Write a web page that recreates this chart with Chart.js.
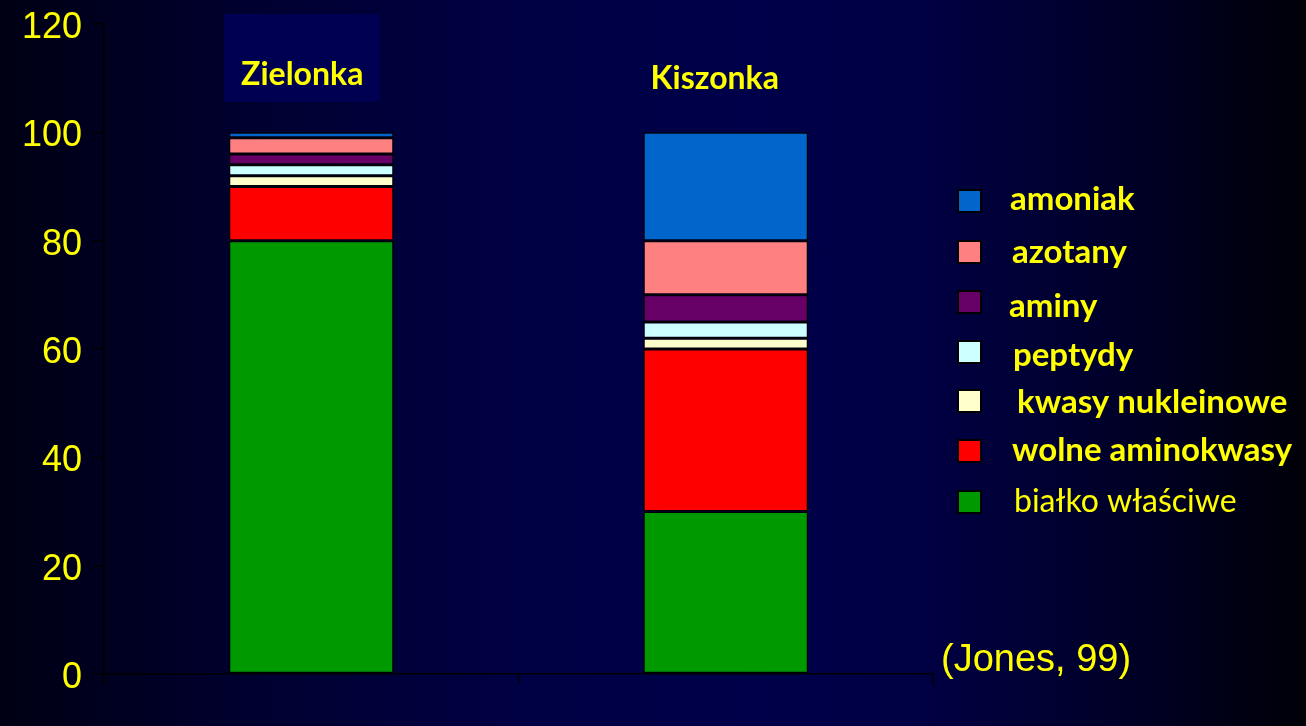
<!DOCTYPE html>
<html>
<head>
<meta charset="utf-8">
<script src="https://cdn.jsdelivr.net/npm/chart.js@4"></script>
<style>
  html, body { margin:0; padding:0; width:1306px; height:726px; overflow:hidden; }
  body { background: linear-gradient(90deg, #000014 0%, #00002e 18%, #000044 40%, #00004a 58%, #000044 70%, #00002a 85%, #000008 100%); }
  #wrap { position:absolute; left:0; top:0; width:1306px; height:726px; }
</style>
</head>
<body>
<div id="wrap"><canvas id="c" width="1306" height="726"></canvas></div>
<script>
const categories = ["Zielonka", "Kiszonka"];
const seriesNames = ["białko właściwe", "wolne aminokwasy", "kwasy nukleinowe", "peptydy", "aminy", "azotany", "amoniak"];
const bialko = [80, 30];
const wolneAminokwasy = [10, 30];
const kwasyNukleinowe = [2, 2];
const peptydy = [2, 3];
const aminy = [2, 5];
const azotany = [3, 10];
const amoniak = [1, 20];
const yTicks = [0, 20, 40, 60, 80, 100, 120];
const sourceNote = "(Jones, 99)";

const seriesValues = [bialko, wolneAminokwasy, kwasyNukleinowe, peptydy, aminy, azotany, amoniak];
const seriesColors = ["#009900", "#FF0000", "#FFFFCC", "#CCFFFF", "#660066", "#FF8080", "#0066CC"];
const YELLOW = "#FFFF00";

const datasets = seriesNames.map((name, i) => ({
  label: name,
  data: seriesValues[i],
  backgroundColor: seriesColors[i],
  borderColor: "#000000",
  borderWidth: 1.5,
  borderSkipped: false,
  barPercentage: 0.398,
  categoryPercentage: 1.0
}));

const decorPlugin = {
  id: "decor",
  beforeDraw(chart) {
    const ctx = chart.ctx;
    ctx.save();
    ctx.fillStyle = "#000052";
    ctx.fillRect(224, 14, 156, 88);
    ctx.restore();
  },
  afterDraw(chart) {
    const ctx = chart.ctx;
    const xs = chart.scales.x;
    ctx.save();
    ctx.fillStyle = YELLOW;
    ctx.textAlign = "center";
    ctx.textBaseline = "alphabetic";
    ctx.font = "bold 32px Lato";
    const catOff = [-9, -11];
    const catBase = [85, 89];
    categories.forEach((c, i) => {
      ctx.fillText(c, xs.getPixelForValue(i) + catOff[i], catBase[i]);
    });
    const rowBox = [201, 252, 302, 352, 401, 451, 502];
    const rowBase = [210, 263, 317, 366, 413, 461, 512];
    const rowX = [1010, 1012, 1009, 1013, 1017, 1012, 1014];
    ctx.textAlign = "left";
    for (let r = 0; r < seriesNames.length; r++) {
      const i = seriesNames.length - 1 - r;
      ctx.fillStyle = "#000000";
      ctx.fillRect(957, rowBox[r] - 12, 25, 24);
      ctx.fillStyle = seriesColors[i];
      ctx.fillRect(959, rowBox[r] - 10, 21, 20);
      ctx.fillStyle = YELLOW;
      ctx.font = (i === 0 ? "32px Lato" : "bold 33px Lato");
      ctx.fillText(seriesNames[i], rowX[r], rowBase[r]);
    }
    ctx.font = "38px 'Liberation Sans'";
    ctx.fillText(sourceNote, 941, 671);
    ctx.restore();
  }
};

new Chart(document.getElementById("c"), {
  type: "bar",
  data: { labels: categories, datasets },
  options: {
    responsive: false,
    devicePixelRatio: 1,
    animation: false,
    layout: { padding: { left: 0, right: 373, top: 24, bottom: 0 } },
    plugins: { legend: { display: false }, tooltip: { enabled: false } },
    scales: {
      x: {
        stacked: true,
        ticks: { display: false },
        grid: { display: true, drawOnChartArea: false, drawTicks: true, tickLength: 10, color: "#000000", lineWidth: 1.5, offset: true },
        border: { display: true, color: "#000000", width: 1.5 },
        afterFit(s) { s.height = 52; s.paddingLeft = 0; s.paddingRight = 0; }
      },
      y: {
        stacked: true,
        min: 0, max: 120,
        afterBuildTicks(s) { s.ticks = yTicks.map(v => ({ value: v })); },
        ticks: { color: YELLOW, font: { family: "'Liberation Sans'", size: 36 }, padding: 10, labelOffset: 4 },
        grid: { drawOnChartArea: false, drawTicks: true, tickLength: 12, color: "#000000", lineWidth: 1.5 },
        border: { display: true, color: "#000000", width: 1.5 },
        afterFit(s) { s.width = 104; s.paddingTop = 0; s.paddingBottom = 0; }
      }
    }
  },
  plugins: [decorPlugin]
});
</script>
</body>
</html>
